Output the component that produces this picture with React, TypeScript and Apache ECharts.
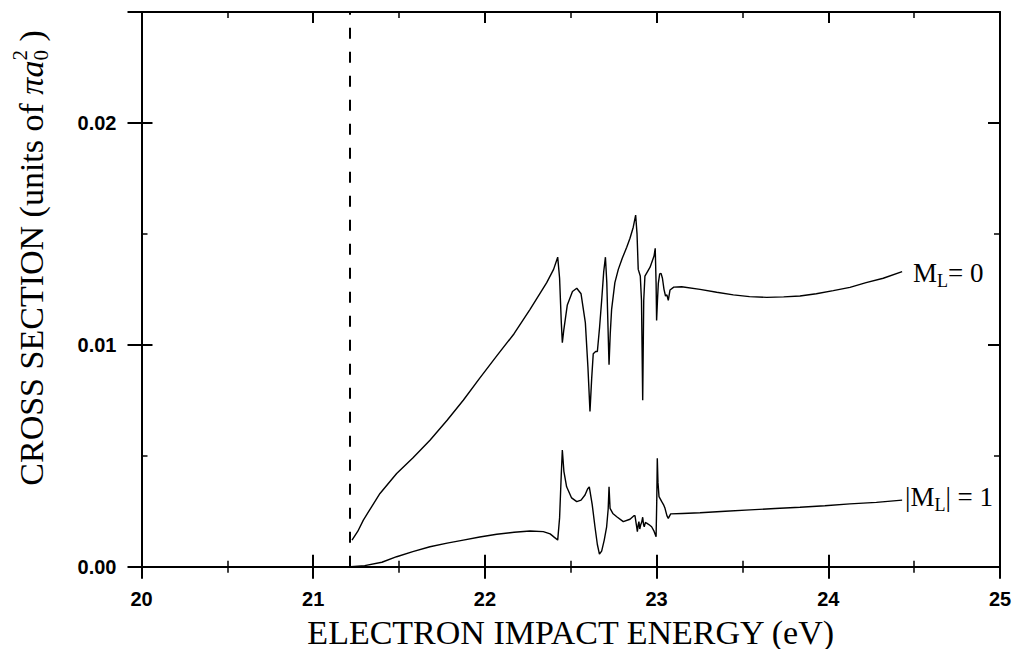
import React, { useEffect, useRef } from 'react';
import * as echarts from 'echarts';

// ---- data ----
const ML0_E = [
  21.226, 21.26, 21.292, 21.34, 21.389, 21.486, 21.58, 21.68, 21.78, 21.874, 21.97, 22.069, 22.17, 22.263,
  22.36, 22.4, 22.424, 22.435, 22.445, 22.451, 22.46, 22.48, 22.51, 22.535, 22.56, 22.585, 22.6, 22.612,
  22.622, 22.631, 22.645, 22.655, 22.668, 22.68, 22.692, 22.702, 22.71, 22.718, 22.723, 22.73, 22.738,
  22.757, 22.777, 22.8, 22.826, 22.845, 22.864, 22.878, 22.886, 22.893, 22.905, 22.912, 22.919, 22.925,
  22.932, 22.947, 22.962, 22.985, 22.992, 22.997, 23.0, 23.005, 23.01, 23.018, 23.026, 23.034, 23.043,
  23.052, 23.06, 23.068, 23.078, 23.1, 23.146, 23.253, 23.35, 23.447, 23.541, 23.641, 23.74, 23.835,
  23.93, 24.029, 24.126, 24.22, 24.32, 24.43,
];
const ML0_S = [
  0.0012, 0.0016, 0.0021, 0.0027, 0.0033, 0.0042, 0.0049, 0.0057, 0.0066, 0.0075, 0.0085, 0.0095, 0.0105, 0.0116,
  0.0128, 0.0134, 0.01395, 0.013, 0.011, 0.0101, 0.0107, 0.0118, 0.0124, 0.01255, 0.0123, 0.011, 0.009, 0.007,
  0.0085, 0.0096, 0.0097, 0.0097, 0.0108, 0.012, 0.0133, 0.01395, 0.0128, 0.0105, 0.0091, 0.0105, 0.0116,
  0.0128, 0.0134, 0.0139, 0.0144, 0.0148, 0.0153, 0.01585, 0.015, 0.0134, 0.0131, 0.012, 0.0075, 0.012,
  0.0131, 0.0133, 0.0135, 0.014, 0.01435, 0.0128, 0.0111, 0.012, 0.01277, 0.0132, 0.01322, 0.013, 0.0125,
  0.0122, 0.01225, 0.012, 0.01247, 0.0126, 0.01262, 0.0125, 0.01237, 0.01225, 0.01217, 0.01214, 0.01216, 0.0122,
  0.0123, 0.01244, 0.01259, 0.0128, 0.013, 0.0133,
];
const ML1_E = [
  21.22, 21.3, 21.4, 21.486, 21.58, 21.68, 21.78, 21.874, 21.97, 22.069, 22.17, 22.263, 22.34, 22.38, 22.405,
  22.424, 22.435, 22.445, 22.451, 22.46, 22.476, 22.505, 22.535, 22.56, 22.583, 22.598, 22.608, 22.625, 22.641,
  22.655, 22.667, 22.68, 22.695, 22.709, 22.718, 22.723, 22.729, 22.745, 22.768, 22.806, 22.845, 22.868, 22.874,
  22.882, 22.888, 22.893, 22.897, 22.902, 22.907, 22.913, 22.919, 22.924, 22.928, 22.935, 22.942, 22.955, 22.971,
  22.985, 22.997, 23.001, 23.004, 23.008, 23.014, 23.03, 23.04, 23.049, 23.06, 23.068, 23.082, 23.15, 23.253,
  23.4, 23.544, 23.69, 23.835, 23.98, 24.126, 24.28, 24.43,
];
const ML1_S = [
  0.0, 0.00005, 0.0002, 0.00045, 0.00068, 0.0009, 0.00106, 0.0012, 0.00134, 0.00146, 0.00155, 0.00161, 0.00158,
  0.00148, 0.00132, 0.0012, 0.0022, 0.0042, 0.00526, 0.0043, 0.0036, 0.0031, 0.00293, 0.003, 0.00323, 0.0035,
  0.0036, 0.0028, 0.0018, 0.001, 0.00057, 0.0007, 0.0012, 0.0018, 0.0026, 0.0036, 0.00263, 0.0024, 0.00225,
  0.00203, 0.00214, 0.0023, 0.0023, 0.0019, 0.00158, 0.0019, 0.00203, 0.0017, 0.00188, 0.002, 0.00223, 0.0019,
  0.0018, 0.002, 0.00196, 0.0019, 0.0018, 0.0016, 0.00135, 0.003, 0.00489, 0.0038, 0.00316, 0.00293, 0.0028,
  0.00263, 0.0023, 0.00218, 0.00238, 0.0024, 0.00243, 0.0025, 0.00256, 0.00262, 0.00268, 0.00275, 0.00283,
  0.0029, 0.003,
];
const THRESHOLD_E = 21.207;
const X_MIN = 20;
const X_MAX = 25;
const Y_MIN = 0;
const Y_MAX = 0.025;
const Y_TICK_LABELS = ['0.00', '0.01', '0.02'];
const X_TITLE = 'ELECTRON IMPACT ENERGY (eV)';

const SERIF = '"Liberation Serif", "Times New Roman", serif';
const SANS = '"Liberation Sans", Arial, sans-serif';

type Part = { t: string; size: number; italic?: boolean; dy?: number; stack?: boolean };

function measure(p: Part): number {
  const c = document.createElement('canvas').getContext('2d');
  if (!c) return p.t.length * p.size * 0.5;
  c.font = `${p.italic ? 'italic ' : ''}${p.size}px ${SERIF}`;
  return c.measureText(p.t).width;
}

function layout(parts: Part[], x0: number, y0: number, center: boolean) {
  const widths = parts.map(measure);
  let total = 0;
  parts.forEach((p, i) => {
    if (!p.stack) total += widths[i];
  });
  let x = center ? x0 - total / 2 : x0;
  const out: any[] = [];
  parts.forEach((p, i) => {
    out.push({
      type: 'text',
      x,
      y: y0 + (p.dy || 0),
      silent: true,
      style: {
        text: p.t,
        fontSize: p.size,
        fontFamily: SERIF,
        fontStyle: p.italic ? 'italic' : 'normal',
        fill: '#000',
        align: 'left',
        verticalAlign: 'middle',
        textAlign: 'left',
        textVerticalAlign: 'middle',
      },
    });
    if (!p.stack) x += widths[i];
  });
  return out;
}

const tickColor = '#000';

function xAxisCfg(position: 'bottom' | 'top', inside: boolean, len: number, showLine: boolean, showLabel: boolean) {
  return {
    type: 'value',
    position,
    min: X_MIN,
    max: X_MAX,
    interval: 1,
    axisLine: { show: showLine, onZero: false, lineStyle: { color: '#000', width: 2 } },
    axisTick: { show: true, inside, length: len, lineStyle: { color: tickColor, width: 2 } },
    minorTick: { show: true, splitNumber: 2, length: 6, lineStyle: { color: tickColor, width: 1.5 } },
    splitLine: { show: false },
    minorSplitLine: { show: false },
    axisLabel: {
      show: showLabel,
      margin: 22,
      color: '#000',
      fontFamily: SANS,
      fontWeight: 'bold',
      fontSize: 20,
    },
  };
}

function yAxisCfg(
  position: 'left' | 'right',
  interval: number,
  inside: boolean,
  len: number,
  showLine: boolean,
  showLabel: boolean,
  tickWidth: number,
) {
  return {
    type: 'value',
    position,
    min: Y_MIN,
    max: Y_MAX,
    interval,
    axisLine: { show: showLine, onZero: false, lineStyle: { color: '#000', width: 2 } },
    axisTick: { show: true, inside, length: len, lineStyle: { color: tickColor, width: tickWidth } },
    splitLine: { show: false },
    axisLabel: {
      show: showLabel,
      margin: 25,
      color: '#000',
      fontFamily: SANS,
      fontWeight: 'bold',
      fontSize: 20,
      formatter: (v: number) => {
        const i = Math.round(v / 0.01);
        return Math.abs(v - i * 0.01) < 1e-9 && i < Y_TICK_LABELS.length ? Y_TICK_LABELS[i] : '';
      },
    },
  };
}

export default function App() {
  const ref = useRef<HTMLDivElement>(null);

  useEffect(() => {
    if (!ref.current) return;
    const chart = echarts.init(ref.current, null, { renderer: 'svg' });

    const ml0 = ML0_E.map((e, i) => [e, ML0_S[i]]);
    const ml1 = ML1_E.map((e, i) => [e, ML1_S[i]]);

    const yTitleParts: Part[] = [
      { t: 'CROSS SECTION (units of ', size: 34 },
      { t: 'πa', size: 34, italic: true },
      { t: '2', size: 21, dy: -11, stack: true },
      { t: '0', size: 21, dy: 10 },
      { t: ' )', size: 34 },
    ];
    const ml0Parts: Part[] = [
      { t: 'M', size: 27 },
      { t: 'L', size: 18, dy: 8 },
      { t: '= 0', size: 27 },
    ];
    const ml1Parts: Part[] = [
      { t: '|M', size: 27 },
      { t: 'L', size: 18, dy: 8 },
      { t: '| = 1', size: 27 },
    ];

    const option: any = {
      animation: false,
      backgroundColor: '#fff',
      grid: { left: 141.5, right: 14, top: 12, bottom: 82.3, containLabel: false, outerBoundsMode: 'none' },
      xAxis: [
        xAxisCfg('bottom', false, 12, true, true),
        xAxisCfg('bottom', true, 12, false, false),
        xAxisCfg('top', true, 11, true, false),
      ],
      yAxis: [
        yAxisCfg('left', 0.01, false, 14, true, true, 2),
        yAxisCfg('left', 0.01, true, 11, false, false, 2),
        yAxisCfg('left', 0.005, true, 6, false, false, 1.5),
        yAxisCfg('right', 0.01, true, 12, true, false, 2),
        yAxisCfg('right', 0.005, true, 6, false, false, 1.5),
      ],
      series: [
        {
          name: 'ML0',
          type: 'line',
          xAxisIndex: 0,
          yAxisIndex: 0,
          data: ml0,
          symbol: 'none',
          lineStyle: { color: '#000', width: 1.4 },
          markLine: {
            silent: true,
            symbol: ['none', 'none'],
            label: { show: false },
            lineStyle: { color: '#000', type: [11, 13], width: 2 },
            data: [{ xAxis: THRESHOLD_E }],
          },
        },
        {
          name: 'ML1',
          type: 'line',
          xAxisIndex: 0,
          yAxisIndex: 0,
          data: ml1,
          symbol: 'none',
          lineStyle: { color: '#000', width: 1.4 },
        },
      ],
      graphic: [
        {
          type: 'text',
          x: 570.7,
          y: 632,
          silent: true,
          style: {
            text: X_TITLE,
            fontSize: 34,
            fontFamily: SERIF,
            fill: '#000',
            align: 'center',
            verticalAlign: 'middle',
            textAlign: 'center',
            textVerticalAlign: 'middle',
          },
        },
        {
          type: 'group',
          x: 31,
          y: 258,
          rotation: Math.PI / 2,
          children: layout(yTitleParts, 0, 0, true),
        },
        { type: 'group', x: 0, y: 0, children: layout(ml0Parts, 913, 273, false) },
        { type: 'group', x: 0, y: 0, children: layout(ml1Parts, 905, 497, false) },
      ],
    };

    chart.setOption(option);
    return () => chart.dispose();
  }, []);

  return (
    <div
      ref={ref}
      style={{ position: 'fixed', left: 0, top: 0, width: 1014, height: 649, background: '#fff' }}
    />
  );
}
